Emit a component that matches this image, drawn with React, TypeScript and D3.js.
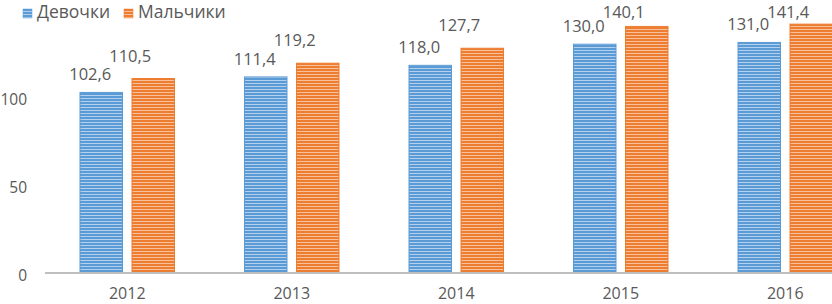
import React from "react";
import * as d3 from "d3";

const years = ["2012", "2013", "2014", "2015", "2016"];
const series = ["Девочки", "Мальчики"];
const girls = [102.6, 111.4, 118.0, 130.0, 131.0];
const boys = [110.5, 119.2, 127.7, 140.1, 141.4];
const yTicks = [0, 50, 100];

const W = 832;
const H = 304;
const FONT = "'Open Sans', 'DejaVu Sans', sans-serif";
const TEXT = "#595959";

const colors = [
  { main: "#5b9bd5", light: "#b4d0ef", id: "patBlue" },
  { main: "#ed7d31", light: "#f8c19b", id: "patOrange" },
];
const labelOffsets = [
  { dx: -11, dy: 12 },
  { dx: -23, dy: 17 },
];

export default function App() {
  const x = d3.scaleBand<string>().domain(years).range([45, 45 + 164.5 * 5]).padding(0);
  const xs = d3
    .scaleBand<string>()
    .domain(series)
    .range([0, x.bandwidth()])
    .paddingInner(9.5 / 52)
    .paddingOuter(0.673);
  const y = d3.scaleLinear().domain([0, 150]).range([273, 9]);
  const data = [girls, boys];

  return (
    <div style={{ position: "fixed", left: 0, top: 0, width: W, height: H, background: "#fff" }}>
      <svg width={W} height={H} style={{ display: "block" }}>
        <defs>
          {colors.map((c) => (
            <pattern key={c.id} id={c.id} patternUnits="userSpaceOnUse" width={6} height={3}>
              <rect x={0} y={0} width={6} height={3} fill={c.light} />
              <rect x={0} y={0} width={6} height={2} fill={c.main} />
            </pattern>
          ))}
        </defs>
        {data.map((vals, si) =>
          vals.map((v, i) => {
            const bx = (x(years[i]) as number) + (xs(series[si]) as number);
            const by = y(v);
            return (
              <rect
                key={`b${si}-${i}`}
                x={bx}
                y={by}
                width={xs.bandwidth()}
                height={y(0) - by}
                fill={`url(#${colors[si].id})`}
                stroke={colors[si].main}
                strokeWidth={1}
              />
            );
          })
        )}
        <line x1={45} x2={W} y1={y(0)} y2={y(0)} stroke="#bfbfbf" strokeWidth={2} />
        {yTicks.map((t) => (
          <text
            key={`yt${t}`}
            x={27}
            y={y(t) + 1.5}
            textAnchor="end"
            dominantBaseline="central"
            fontFamily={FONT}
            fontSize={15.5}
            fill={TEXT}
          >
            {t}
          </text>
        ))}
        {years.map((yr) => (
          <text
            key={`xl${yr}`}
            x={(x(yr) as number) + x.bandwidth() / 2}
            y={299}
            textAnchor="middle"
            fontFamily={FONT}
            fontSize={16}
            fill={TEXT}
          >
            {yr}
          </text>
        ))}
        {data.map((vals, si) =>
          vals.map((v, i) => {
            const cx = (x(years[i]) as number) + (xs(series[si]) as number) + xs.bandwidth() / 2;
            return (
              <text
                key={`dl${si}-${i}`}
                x={cx + labelOffsets[si].dx}
                y={Math.max(y(v) - labelOffsets[si].dy, 18)}
                textAnchor="middle"
                fontFamily={FONT}
                fontSize={16.5}
                fill={TEXT}
              >
                {v.toFixed(1).replace(".", ",")}
              </text>
            );
          })
        )}
        {series.map((s, si) => {
          const lx = si === 0 ? 23 : 124;
          return (
            <g key={`lg${si}`}>
              <rect x={lx} y={9} width={9} height={9} fill={`url(#${colors[si].id})`} stroke={colors[si].main} strokeWidth={0.5} />
              <text x={lx + 14} y={18} fontFamily={FONT} fontSize={17.5} fill={TEXT}>
                {s}
              </text>
            </g>
          );
        })}
      </svg>
    </div>
  );
}
